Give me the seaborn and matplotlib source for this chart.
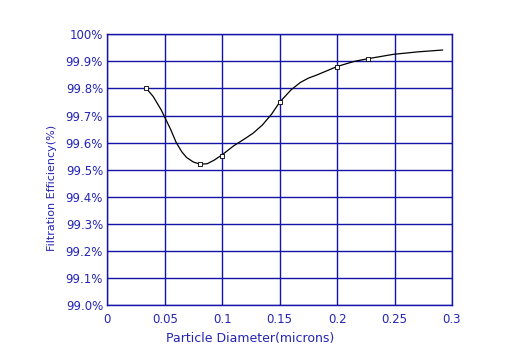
import numpy as np
import pandas as pd
import matplotlib
matplotlib.use("Agg")
import matplotlib.pyplot as plt
import seaborn as sns

# ---- data ----
# measured points (small square markers)
marker_d = [0.034, 0.081, 0.100, 0.150, 0.200, 0.227]
marker_eff = [99.80, 99.52, 99.552, 99.749, 99.881, 99.91]

# traced curve through the points
curve_d = [0.034, 0.040, 0.047, 0.055, 0.060, 0.065, 0.069, 0.075, 0.081, 0.087,
           0.093, 0.100, 0.110, 0.120, 0.127, 0.135, 0.143, 0.150, 0.160, 0.168,
           0.175, 0.182, 0.200, 0.215, 0.227, 0.249, 0.270, 0.292]
curve_eff = [99.80, 99.77, 99.72, 99.65, 99.60, 99.565, 99.545, 99.528, 99.52, 99.522,
             99.535, 99.555, 99.588, 99.615, 99.635, 99.665, 99.705, 99.749, 99.795, 99.822,
             99.838, 99.849, 99.881, 99.90, 99.91, 99.926, 99.935, 99.942]

x_ticks = [0, 0.05, 0.1, 0.15, 0.2, 0.25, 0.3]
x_tick_labels = ["0", "0.05", "0.1", "0.15", "0.2", "0.25", "0.3"]
y_ticks = [99.0, 99.1, 99.2, 99.3, 99.4, 99.5, 99.6, 99.7, 99.8, 99.9, 100.0]
y_tick_labels = ["99.0%", "99.1%", "99.2%", "99.3%", "99.4%", "99.5%",
                 "99.6%", "99.7%", "99.8%", "99.9%", "100%"]

blue = "#1414a8"
text_blue = "#2424b4"

sns.set_style("white")
plt.rcParams['font.family'] = ['DejaVu Sans']

fig = plt.figure(figsize=(5.28, 3.58), dpi=100)
ax = fig.add_axes([0.2032, 0.148, 0.856 - 0.2032, 0.9042 - 0.148])

curve_df = pd.DataFrame({"d": curve_d, "eff": curve_eff})
mark_df = pd.DataFrame({"d": marker_d, "eff": marker_eff})

sns.lineplot(data=curve_df, x="d", y="eff", ax=ax, color="black", linewidth=0.9,
             sort=False, zorder=3)
sns.scatterplot(data=mark_df, x="d", y="eff", ax=ax, marker="s", s=5,
                facecolor="white", edgecolor="black", linewidth=0.6, zorder=4)

ax.set_xlim(0, 0.3)
ax.set_ylim(99.0, 100.0)
ax.set_xticks(x_ticks)
ax.set_xticklabels(x_tick_labels)
ax.set_yticks(y_ticks)
ax.set_yticklabels(y_tick_labels)
ax.tick_params(axis="both", length=0, labelsize=8.5, colors=text_blue)
ax.tick_params(axis="y", pad=3)
ax.tick_params(axis="x", pad=6)

ax.grid(True, color=blue, linewidth=1.0)
ax.set_axisbelow(True)
for sp in ax.spines.values():
    sp.set_color(blue)
    sp.set_linewidth(1.0)

ax.set_xlabel("Particle Diameter(microns)", color=text_blue, fontsize=9, va="center")
ax.set_ylabel("Filtration Efficiency(%)", color=text_blue, fontsize=8, va="center")
ax.xaxis.set_label_coords(0.414, -0.122)
ax.yaxis.set_label_coords(-0.160, 0.432)

fig.savefig("out.png", dpi=100, facecolor="white")
